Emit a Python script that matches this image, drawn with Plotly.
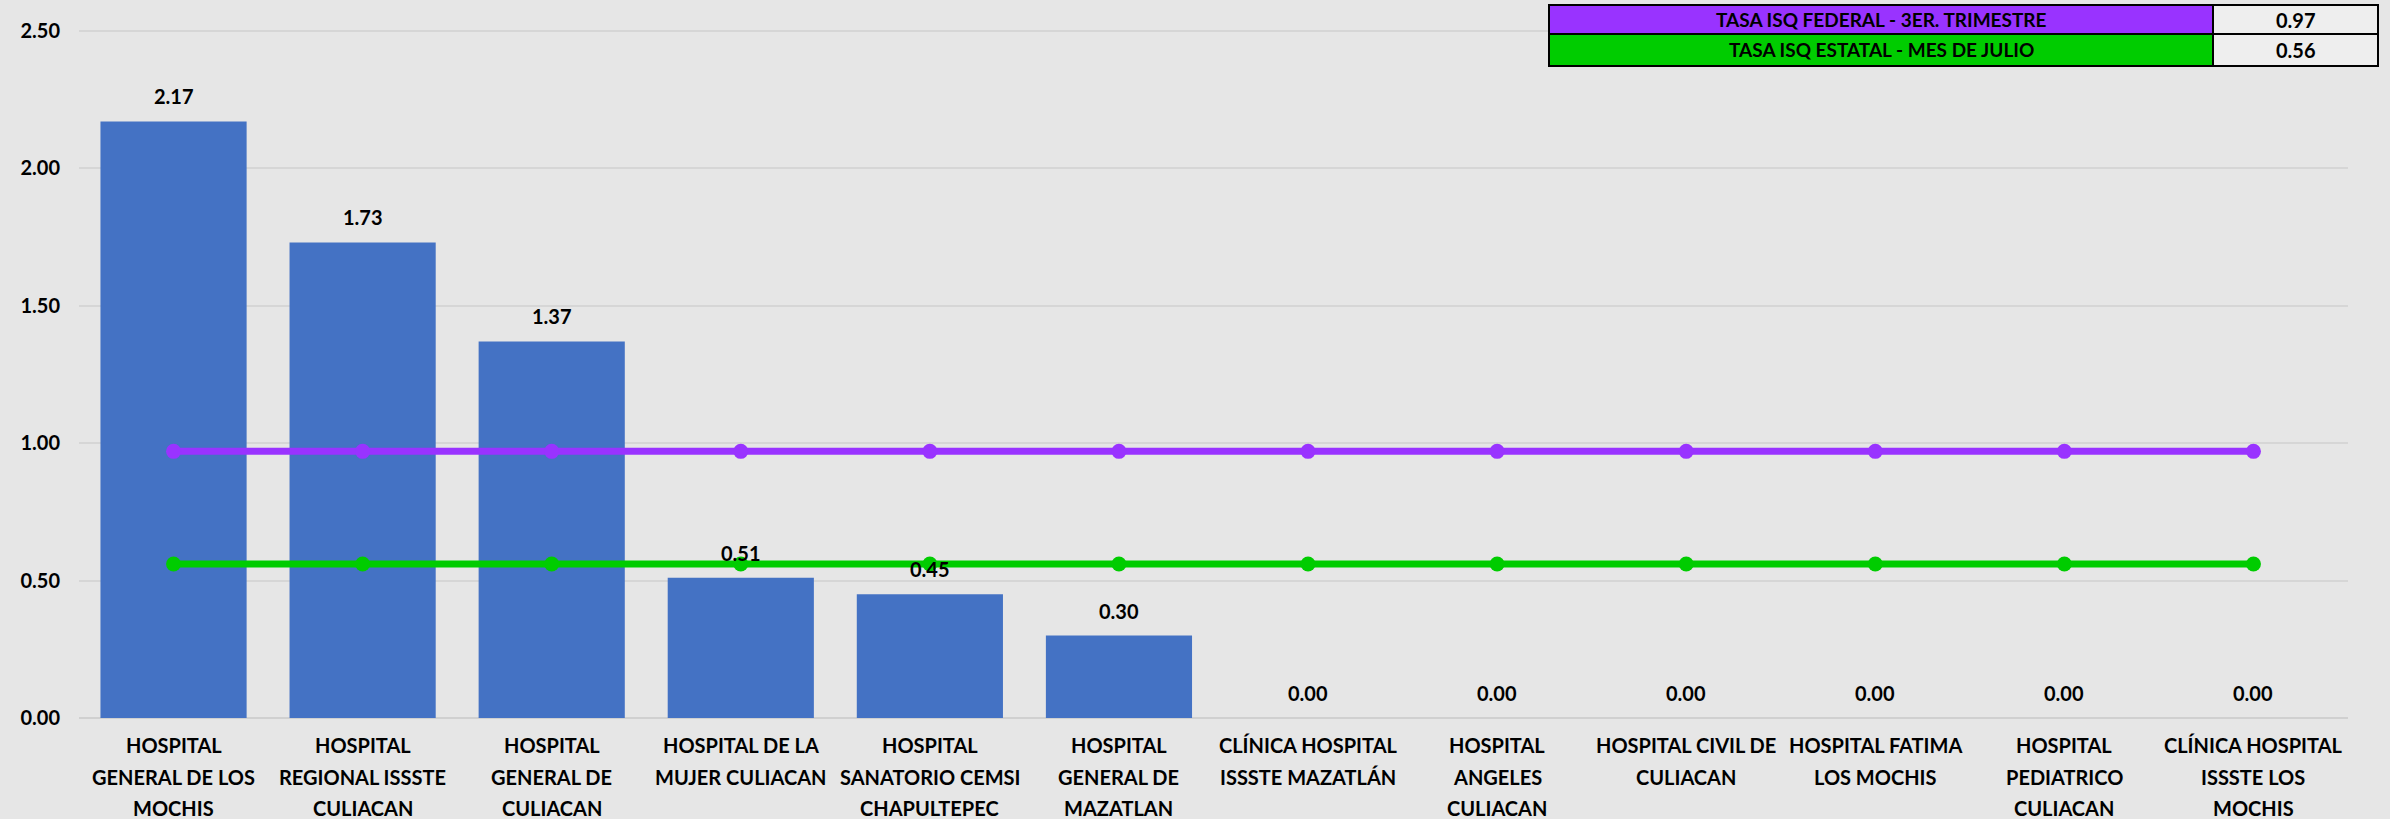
import plotly.graph_objects as go

categories = [
    "HOSPITAL<br>GENERAL DE LOS<br>MOCHIS",
    "HOSPITAL<br>REGIONAL ISSSTE<br>CULIACAN",
    "HOSPITAL<br>GENERAL DE<br>CULIACAN",
    "HOSPITAL DE LA<br>MUJER CULIACAN",
    "HOSPITAL<br>SANATORIO CEMSI<br>CHAPULTEPEC",
    "HOSPITAL<br>GENERAL DE<br>MAZATLAN",
    "CLÍNICA HOSPITAL<br>ISSSTE MAZATLÁN",
    "HOSPITAL<br>ANGELES<br>CULIACAN",
    "HOSPITAL CIVIL DE<br>CULIACAN",
    "HOSPITAL FATIMA<br>LOS MOCHIS",
    "HOSPITAL<br>PEDIATRICO<br>CULIACAN",
    "CLÍNICA HOSPITAL<br>ISSSTE LOS<br>MOCHIS",
]
tasa_hospital = [2.17, 1.73, 1.37, 0.51, 0.45, 0.30, 0.00, 0.00, 0.00, 0.00, 0.00, 0.00]
federal_label = "TASA ISQ FEDERAL - 3ER. TRIMESTRE"
federal_value = 0.97
estatal_label = "TASA ISQ ESTATAL - MES DE JULIO"
estatal_value = 0.56
y_ticks = [0.0, 0.5, 1.0, 1.5, 2.0, 2.5]

FONT = "Lato"
BG = "#E6E6E6"
BAR = "#4472C4"
PURPLE = "#9933FF"
GREEN = "#00CC00"

x_idx = list(range(len(categories)))

fig = go.Figure()
fig.add_trace(go.Bar(x=x_idx, y=tasa_hospital, marker=dict(color=BAR, line=dict(width=0)),
                     showlegend=False, hoverinfo="y"))
fig.add_trace(go.Scatter(x=x_idx, y=[federal_value] * len(x_idx), mode="lines+markers",
                         line=dict(color=PURPLE, width=7), marker=dict(color=PURPLE, size=15),
                         showlegend=False, name=federal_label))
fig.add_trace(go.Scatter(x=x_idx, y=[estatal_value] * len(x_idx), mode="lines+markers",
                         line=dict(color=GREEN, width=7), marker=dict(color=GREEN, size=15),
                         showlegend=False, name=estatal_label))

annotations = []
# data labels
for i, v in zip(x_idx, tasa_hospital):
    annotations.append(dict(x=i, y=v, xref="x", yref="y", text=f"<b>{v:.2f}</b>", showarrow=False,
                            yanchor="middle", yshift=25, font=dict(family=FONT, size=20, color="black")))
# category labels, line by line
for i, cat in zip(x_idx, categories):
    for j, line in enumerate(cat.split("<br>")):
        annotations.append(dict(x=i, y=0, xref="x", yref="y", text=f"<b>{line}</b>", showarrow=False,
                                yanchor="middle", yshift=-27 - 31.5 * j,
                                font=dict(family=FONT, size=20, color="black")))

# reference table (top right), positioned in pixels converted to paper (plot-area) units
W, H = 2390, 819
ML, MR, MT, MB = 79, 42, 17, 101
PW, PH = W - ML - MR, H - MT - MB
def px(x):
    return (x - ML) / PW
def py(y):
    return (H - MB - y) / PH

table_rows = [(federal_label, federal_value, PURPLE, 5, 34), (estatal_label, estatal_value, GREEN, 34, 66)]
shapes = []
x0, x1, x2 = 1549, 2213, 2378
for label, val, col, ya, yb in table_rows:
    shapes.append(dict(type="rect", xref="paper", yref="paper", x0=px(x0), x1=px(x1), y0=py(yb), y1=py(ya),
                       fillcolor=col, line=dict(color="black", width=2), layer="above"))
    shapes.append(dict(type="rect", xref="paper", yref="paper", x0=px(x1), x1=px(x2), y0=py(yb), y1=py(ya),
                       fillcolor="#EEEEEE", line=dict(color="black", width=2), layer="above"))
    annotations.append(dict(x=px((x0 + x1) / 2), y=py((ya + yb) / 2), xref="paper", yref="paper",
                            text=f"<b>{label}</b>", showarrow=False, xanchor="center", yanchor="middle",
                            font=dict(family=FONT, size=19, color="black")))
    annotations.append(dict(x=px((x1 + x2) / 2), y=py((ya + yb) / 2), xref="paper", yref="paper",
                            text=f"<b>{val:.2f}</b>", showarrow=False, xanchor="center", yanchor="middle",
                            font=dict(family=FONT, size=20, color="black")))

fig.update_layout(
    width=W, height=H,
    paper_bgcolor=BG, plot_bgcolor=BG,
    margin=dict(l=ML, r=MR, t=MT, b=MB),
    bargap=0.227,
    font=dict(family=FONT, size=20, color="black"),
    annotations=annotations,
    shapes=shapes,
)
fig.update_xaxes(range=[-0.5, 11.5], showticklabels=False, showgrid=False, zeroline=False,
                 showline=False)
fig.update_yaxes(range=[0, 2.55], tickvals=y_ticks, ticktext=[f"<b>{t:.2f}</b>" for t in y_ticks],
                 showgrid=True, gridcolor="#D6D6D6", gridwidth=2, zeroline=True, zerolinecolor="#D0D0D0",
                 zerolinewidth=2, ticklabelstandoff=18, tickfont=dict(family=FONT, size=20, color="black"))

fig.write_html("out.html", config={"displayModeBar": False},
               post_script="document.body.style.margin='0';document.body.style.background='#E6E6E6';document.body.style.overflow='hidden';")
